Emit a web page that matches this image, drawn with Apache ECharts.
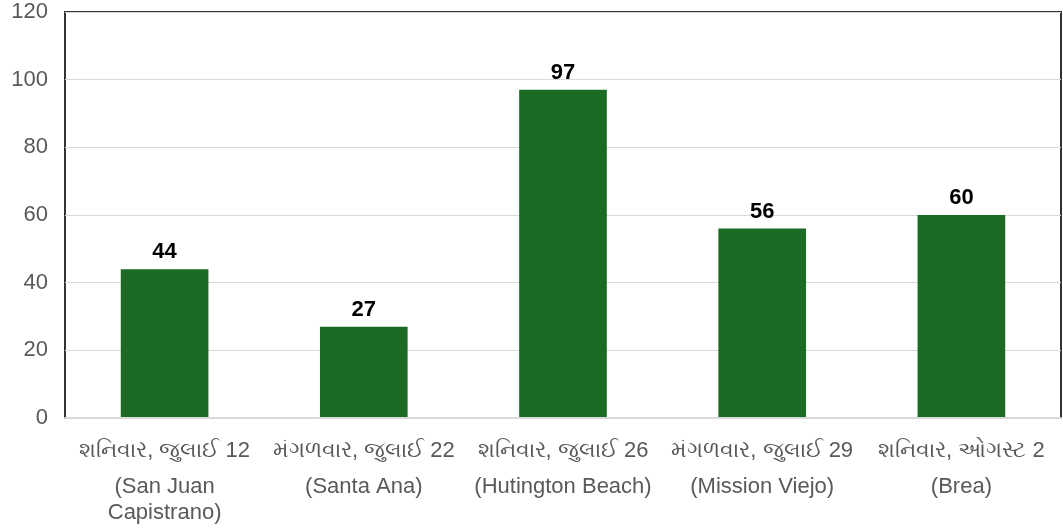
<!DOCTYPE html>
<html>
<head>
<meta charset="utf-8">
<script src="https://cdn.jsdelivr.net/npm/echarts@6/dist/echarts.min.js"></script>
<style>
  html, body { margin: 0; padding: 0; background: #fff; }
  #chart { width: 1063px; height: 531px; }
</style>
</head>
<body>
<div id="chart"></div>
<script>
// dates (Gujarati) and venues, one entry per bar
var dates = [
    'શનિવાર, જુલાઈ 12',
    'મંગળવાર, જુલાઈ 22',
    'શનિવાર, જુલાઈ 26',
    'મંગળવાર, જુલાઈ 29',
    'શનિવાર, ઓગસ્ટ 2'
];
var places = [
    '(San Juan\nCapistrano)',
    '(Santa Ana)',
    '(Hutington Beach)',
    '(Mission Viejo)',
    '(Brea)'
];
var values = [44, 27, 97, 56, 60];
var yTicks = { min: 0, max: 120, interval: 20 };

var categories = dates.map(function (d, i) { return d + '|' + places[i]; });

var chart = echarts.init(document.getElementById('chart'));
var option = {
    animation: false,
    textStyle: { fontFamily: 'Liberation Sans, Arial, sans-serif' },
    grid: {
        left: 65,
        right: 2,
        top: 12,
        bottom: 113,
        show: true,
        borderColor: '#333',
        borderWidth: 2
    },
    xAxis: {
        type: 'category',
        data: categories,
        axisTick: { show: false },
        axisLine: { lineStyle: { color: '#d9d9d9', width: 2 } },
        axisLabel: {
            interval: 0,
            margin: 10,
            formatter: function (v) {
                var parts = v.split('|');
                var lines = parts[1].split('\n').map(function (s) { return '{l|' + s + '}'; });
                return '{g|' + parts[0] + '}\n' + lines.join('\n');
            },
            rich: {
                g: { color: '#595959', fontSize: 22, lineHeight: 46 },
                l: { color: '#595959', fontSize: 22, lineHeight: 26 }
            }
        },
        z: 10
    },
    yAxis: {
        type: 'value',
        min: yTicks.min,
        max: yTicks.max,
        interval: yTicks.interval,
        axisLine: { show: false },
        axisTick: { show: false },
        axisLabel: { color: '#595959', fontSize: 22, margin: 17 },
        splitLine: { lineStyle: { color: '#d9d9d9', width: 1 } }
    },
    series: [{
        type: 'bar',
        data: values,
        barWidth: '44%',
        itemStyle: { color: '#1b6b25' },
        label: {
            show: true,
            position: 'top',
            color: '#000',
            fontSize: 22,
            fontWeight: 'bold',
            distance: 6
        }
    }]
};
chart.setOption(option);
</script>
</body>
</html>
